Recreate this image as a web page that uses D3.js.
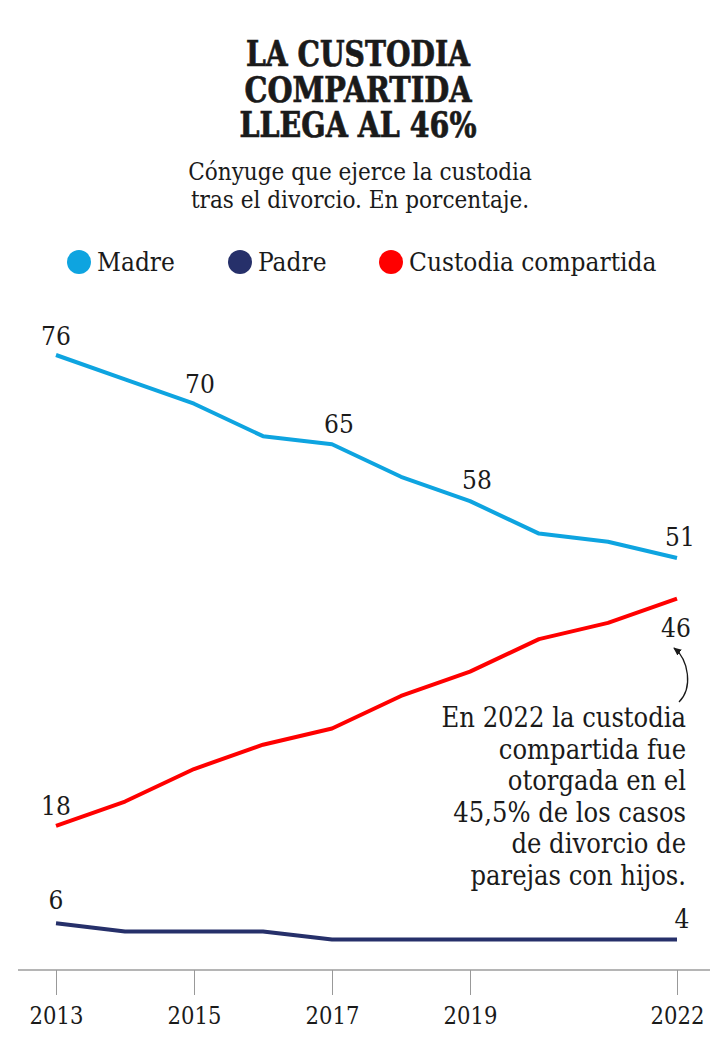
<!DOCTYPE html>
<html>
<head>
<meta charset="utf-8">
<script src="https://cdn.jsdelivr.net/npm/d3@7"></script>
<style>
  body { margin: 0; background: #fff; }
  svg text { font-family: "DejaVu Serif Condensed", "DejaVu Serif", serif; font-stretch: condensed; fill: #1a1a1a; }
</style>
</head>
<body>
<svg id="chart" width="720" height="1048"></svg>
<script>
// data
var years = [2013, 2014, 2015, 2016, 2017, 2018, 2019, 2020, 2021, 2022];
var madre = [76, 73, 70, 66, 65, 61, 58, 54, 53, 51];
var padre = [6, 5, 5, 5, 4, 4, 4, 4, 4, 4];
var compartida = [18, 21, 25, 28, 30, 34, 37, 41, 43, 46];
var tickYears = [2013, 2015, 2017, 2019, 2022];

var seriesNames = ["Madre", "Padre", "Custodia compartida"];
var colors = ["#0ea4e0", "#26306a", "#ff0000"];

var svg = d3.select("#chart");

// title (one text, three lines), squeezed to the reference widths
var titleLines = ["LA CUSTODIA", "COMPARTIDA", "LLEGA AL 46%"];
var titleWidths = [224, 227, 237];
var title = svg.append("text")
  .attr("text-anchor", "middle")
  .style("font-size", "36px").style("font-weight", "bold")
  .attr("stroke", "#1a1a1a").attr("stroke-width", 0.7);
title.selectAll("tspan").data(titleLines).enter().append("tspan")
  .attr("x", 358).attr("y", (d, i) => 66 + i * 35.5)
  .attr("textLength", (d, i) => titleWidths[i])
  .attr("lengthAdjust", "spacingAndGlyphs")
  .text(d => d);

// subtitle
var subLines = ["Cónyuge que ejerce la custodia", "tras el divorcio. En porcentaje."];
var sub = svg.append("text").attr("text-anchor", "middle").style("font-size", "24px");
sub.selectAll("tspan").data(subLines).enter().append("tspan")
  .attr("x", 360).attr("y", (d, i) => 180 + i * 28)
  .text(d => d);

// legend
var legendX = [79, 240, 391];
var legend = svg.selectAll(".leg").data(seriesNames).enter().append("g")
  .attr("transform", (d, i) => "translate(" + legendX[i] + ",262)");
legend.append("circle").attr("r", 12).attr("fill", (d, i) => colors[i]);
legend.append("text").attr("x", 18).attr("y", 9)
  .style("font-size", "26px").text(d => d);

// scales
var x = d3.scaleLinear().domain([2013, 2022]).range([56, 677]);
var y = d3.scaleLinear().domain([0, 76]).range([972, 355]);

// axis
svg.append("line").attr("x1", 18).attr("x2", 710).attr("y1", 970).attr("y2", 970)
  .attr("stroke", "#b5b5b5").attr("stroke-width", 2);
var xAxis = d3.axisBottom(x).tickValues(tickYears).tickFormat(d3.format("d")).tickSize(25).tickPadding(12);
var ax = svg.append("g").attr("transform", "translate(0,970)").call(xAxis);
ax.select(".domain").remove();
ax.selectAll(".tick line").attr("stroke", "#999").attr("stroke-width", 1);
ax.selectAll(".tick text").style("font-size", "23.5px")
  .style("font-family", "DejaVu Serif Condensed, DejaVu Serif").attr("fill", "#1a1a1a");

// lines
var line = d3.line().x((d, i) => x(years[i])).y(d => y(d));
[madre, padre, compartida].forEach((vals, k) => {
  svg.append("path").datum(vals).attr("d", line)
    .attr("fill", "none").attr("stroke", colors[k]).attr("stroke-width", 4)
    .attr("stroke-linejoin", "round");
});

// value labels [series, index, dx, dy]
var labels = [
  [madre, 0, 0, -10], [madre, 2, 6, -11], [madre, 4, 7, -11], [madre, 6, 7, -12], [madre, 9, 3, -12],
  [compartida, 0, 0, -11], [compartida, 9, -1, 38],
  [padre, 0, 0, -14], [padre, 9, 5, -12]
];
labels.forEach(l => {
  var v = l[0][l[1]];
  svg.append("text")
    .attr("x", x(years[l[1]]) + l[2]).attr("y", y(v) + l[3])
    .attr("text-anchor", "middle").style("font-size", "26px")
    .text(v);
});

// annotation
var note = ["En 2022 la custodia", "compartida fue", "otorgada en el", "45,5% de los casos", "de divorcio de", "parejas con hijos."];
var noteText = svg.append("text").attr("text-anchor", "end").style("font-size", "27px");
noteText.selectAll("tspan").data(note).enter().append("tspan")
  .attr("x", 686).attr("y", (d, i) => 727 + i * 31.6)
  .text(d => d);

svg.append("defs").append("marker")
  .attr("id", "arr").attr("viewBox", "0 0 10 10").attr("refX", 8).attr("refY", 5)
  .attr("markerWidth", 7).attr("markerHeight", 7).attr("orient", "auto")
  .append("path").attr("d", "M0,1 L9,5 L0,9 Z").attr("fill", "#1a1a1a");
svg.append("path")
  .attr("d", "M679,702 C693,688 689,660 674,648")
  .attr("fill", "none").attr("stroke", "#1a1a1a").attr("stroke-width", 1.3)
  .attr("marker-end", "url(#arr)");
</script>
</body>
</html>
